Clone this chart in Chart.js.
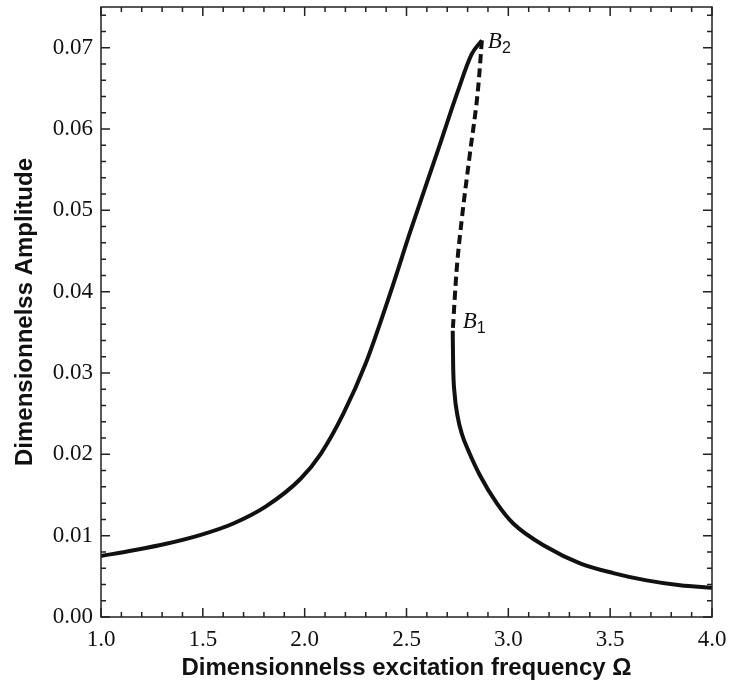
<!DOCTYPE html>
<html>
<head>
  <title>Frequency response</title>
  <script src="https://cdn.jsdelivr.net/npm/chart.js@4/dist/chart.umd.min.js"></script>
  <style>
    body { margin: 0; background: #fff; }
  </style>
</head>
<body>
  <canvas id="chart" width="743" height="686"></canvas>

  <script>
    // upper stable branch, from 1.0 up to the fold B2
    const upperOmega = [1.00, 1.16, 1.32, 1.49, 1.65, 1.81, 1.98, 2.08, 2.19, 2.30, 2.42, 2.52, 2.66, 2.75, 2.82, 2.87];
    const upperAmp   = [0.0075, 0.0082, 0.0090, 0.0101, 0.0115, 0.0136, 0.0170, 0.0201, 0.0250, 0.0312, 0.0398, 0.0475, 0.0578, 0.0645, 0.0692, 0.0709];

    // unstable branch B2 -> B1 (dashed)
    const unstableOmega = [2.870, 2.852, 2.811, 2.771, 2.746, 2.727];
    const unstableAmp   = [0.0709, 0.0651, 0.0569, 0.0488, 0.0426, 0.0352];

    // lower stable branch, from B1 down to 4.0
    const lowerOmega = [2.727, 2.729, 2.736, 2.750, 2.772, 2.803, 2.861, 2.943, 3.024, 3.188, 3.352, 3.515, 3.679, 3.843, 4.000];
    const lowerAmp   = [0.0352, 0.0310, 0.0275, 0.0248, 0.0225, 0.0205, 0.0174, 0.0140, 0.0115, 0.0086, 0.0066, 0.0054, 0.0045, 0.0039, 0.0036];

    const xTicks = [1.0, 1.5, 2.0, 2.5, 3.0, 3.5, 4.0];
    const yTicks = [0.00, 0.01, 0.02, 0.03, 0.04, 0.05, 0.06, 0.07];

    const pts = (xs, ys) => xs.map((x, i) => ({x: x, y: ys[i]}));

    const line = (data, dash) => ({
      data: data,
      showLine: true,
      borderColor: '#111',
      borderWidth: 4,
      borderDash: dash,
      pointRadius: 0,
      cubicInterpolationMode: 'monotone',
      fill: false
    });

    // inward ticks on all four sides, plus the frame and the B labels
    const frame = {
      id: 'frame',
      afterDatasetsDraw(chart) {
        const ctx = chart.ctx;
        const a = chart.chartArea;
        const sx = chart.scales.x, sy = chart.scales.y;
        ctx.save();
        ctx.strokeStyle = '#222';
        ctx.lineWidth = 1.5;
        ctx.strokeRect(a.left, a.top, a.right - a.left, a.bottom - a.top);

        for (let i = 0; i <= 30; i++) {
          const v = 1 + i * 0.1;
          const len = i % 5 == 0 ? 9 : 5;
          const px = sx.getPixelForValue(v);
          ctx.beginPath();
          ctx.moveTo(px, a.bottom); ctx.lineTo(px, a.bottom - len);
          ctx.moveTo(px, a.top); ctx.lineTo(px, a.top + len);
          ctx.stroke();
        }
        for (let i = 0; i <= 37; i++) {
          const v = i * 0.002;
          const len = i % 5 == 0 ? 9 : 5;
          const py = sy.getPixelForValue(v);
          ctx.beginPath();
          ctx.moveTo(a.left, py); ctx.lineTo(a.left + len, py);
          ctx.moveTo(a.right, py); ctx.lineTo(a.right - len, py);
          ctx.stroke();
        }

        const label = (omega, amp, sub, dx, dy) => {
          const px = sx.getPixelForValue(omega) + dx;
          const py = sy.getPixelForValue(amp) + dy;
          ctx.fillStyle = '#111';
          ctx.textBaseline = 'alphabetic';
          ctx.textAlign = 'left';
          ctx.font = 'italic 23px "Liberation Serif"';
          ctx.fillText('B', px, py);
          const w = ctx.measureText('B').width;
          ctx.font = '16px "Liberation Sans"';
          ctx.fillText(sub, px + w, py + 5);
        };
        label(unstableOmega[0], unstableAmp[0], '2', 6, 8);
        const n = unstableOmega.length - 1;
        label(unstableOmega[n], unstableAmp[n], '1', 10, -3);
        ctx.restore();
      }
    };

    new Chart(document.getElementById('chart'), {
      type: 'scatter',
      data: {
        datasets: [
          line(pts(upperOmega, upperAmp), []),
          line(pts(unstableOmega, unstableAmp), [9, 5]),
          line(pts(lowerOmega, lowerAmp), [])
        ]
      },
      options: {
        responsive: false,
        animation: false,
        layout: {padding: {top: 7, right: 31, left: 0, bottom: 0}},
        plugins: {legend: {display: false}, tooltip: {enabled: false}},
        scales: {
          x: {
            type: 'linear', min: 1, max: 4,
            grid: {display: false, drawTicks: false}, border: {display: false},
            afterBuildTicks: s => { s.ticks = xTicks.map(v => ({value: v})); },
            afterFit: s => { s.height = 69; s.paddingLeft = 0; s.paddingRight = 0; },
            ticks: {
              color: '#111', padding: 9, maxRotation: 0,
              font: {family: '"Liberation Serif"', size: 23},
              callback: v => v.toFixed(1)
            },
            title: {
              display: true, text: 'Dimensionnelss excitation frequency Ω', color: '#111',
              font: {family: '"Liberation Sans"', size: 24, weight: 'bold'},
              padding: {top: 0, bottom: 3}
            }
          },
          y: {
            type: 'linear', min: 0, max: 0.075,
            grid: {display: false, drawTicks: false}, border: {display: false},
            afterBuildTicks: s => { s.ticks = yTicks.map(v => ({value: v})); },
            afterFit: s => { s.width = 101; s.paddingTop = 0; s.paddingBottom = 0; },
            ticks: {
              color: '#111', padding: 8,
              font: {family: '"Liberation Serif"', size: 23},
              callback: v => v.toFixed(2)
            },
            title: {
              display: true, text: 'Dimensionnelss Amplitude', color: '#111',
              font: {family: '"Liberation Sans"', size: 24, weight: 'bold'},
              padding: {top: 11, bottom: 0}
            }
          }
        }
      },
      plugins: [frame]
    });
  </script>
</body>
</html>
